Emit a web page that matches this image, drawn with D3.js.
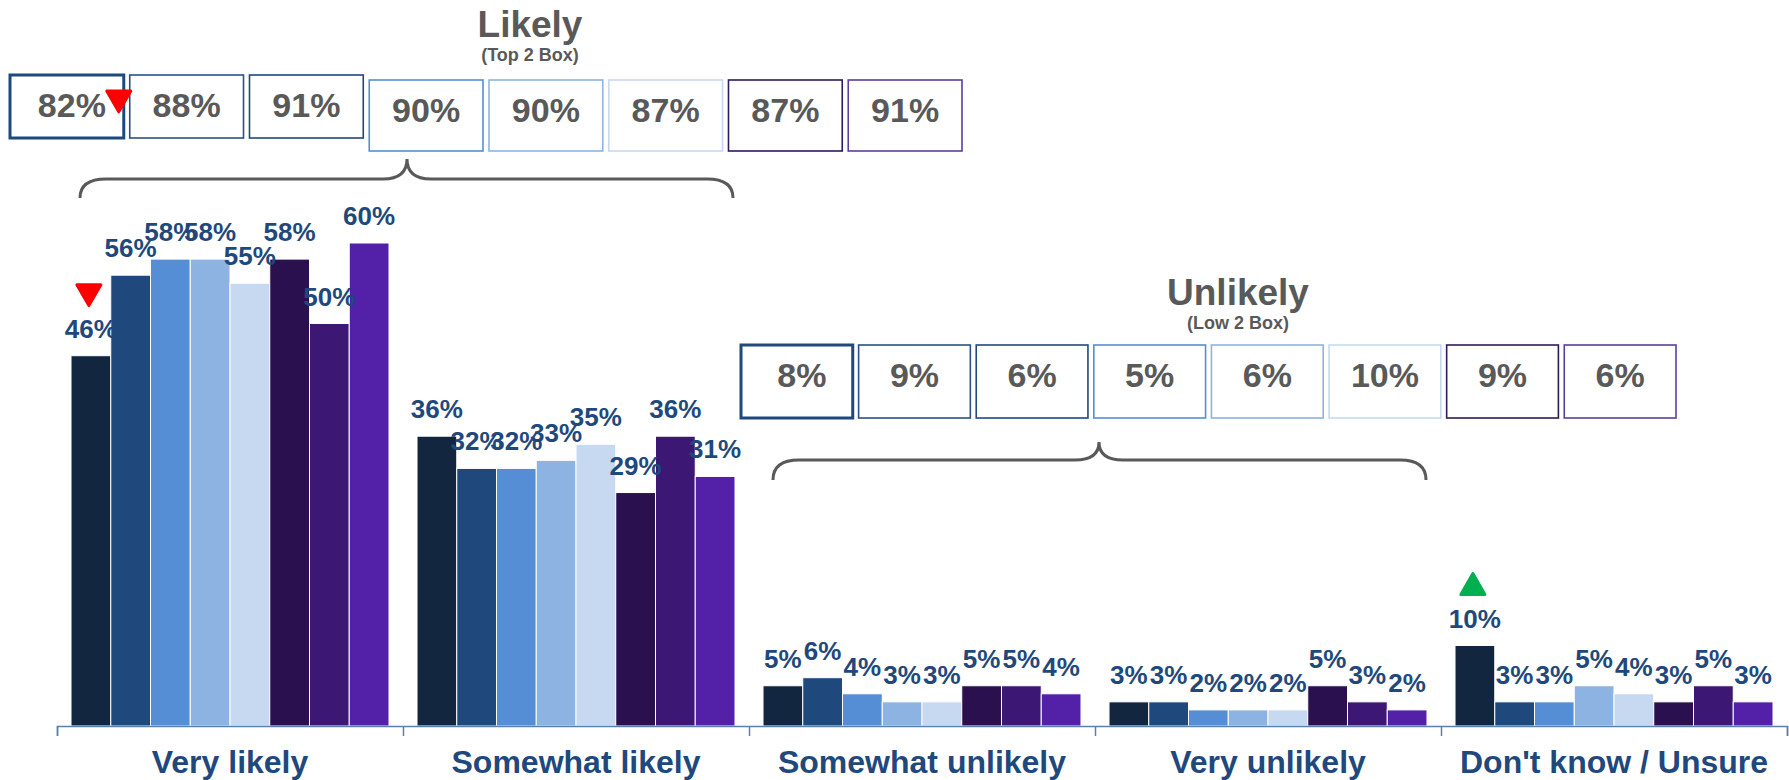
<!DOCTYPE html>
<html>
<head>
<meta charset="utf-8">
<script src="https://cdn.jsdelivr.net/npm/d3@7"></script>
<style>
  html, body { margin: 0; padding: 0; background: #ffffff; }
  svg { display: block; font-family: "Liberation Sans", Arial, sans-serif; }
</style>
</head>
<body>
<svg id="chart" width="1789" height="780"></svg>
<script>
// ---------------- DATA ----------------
const categories = ["Very likely", "Somewhat likely", "Somewhat unlikely", "Very unlikely", "Don't know / Unsure"];
const seriesKeys = ["s1", "s2", "s3", "s4", "s5", "s6", "s7", "s8"];
const veryLikely       = [46, 56, 58, 58, 55, 58, 50, 60];
const somewhatLikely   = [36, 32, 32, 33, 35, 29, 36, 31];
const somewhatUnlikely = [5, 6, 4, 3, 3, 5, 5, 4];
const veryUnlikely     = [3, 3, 2, 2, 2, 5, 3, 2];
const dontKnow         = [10, 3, 3, 5, 4, 3, 5, 3];
const top2Box = [82, 88, 91, 90, 90, 87, 87, 91];
const low2Box = [8, 9, 6, 5, 6, 10, 9, 6];
// significance markers: [category index, series index, direction]
const barSig = [[0, 0, "down"], [4, 0, "up"]];
const top2Sig = [[0, "down"]];

// ---------------- STYLE ----------------
const barColors = ["#13263F", "#1F497D", "#558ED5", "#8DB3E2", "#C6D9F1", "#2A104F", "#3C1874", "#5221A8"];
const boxStroke = ["#1F497D", "#2B5186", "#1F497D", "#558ED5", "#8DB3E2", "#C6D9F1", "#2E1A5C", "#5B3F9C"];
const valueColor = "#1F497D";
const greyText = "#595959";
const axisColor = "#5B7FAE";

const table = categories.map((c, ci) => {
  const vals = [veryLikely, somewhatLikely, somewhatUnlikely, veryUnlikely, dontKnow][ci];
  return { cat: c, ci, values: vals.map((v, si) => ({ key: seriesKeys[si], si, v })) };
});

const svg = d3.select("#chart");

// ---------------- SCALES ----------------
const x0 = d3.scaleBand().domain(categories).range([57, 1787]).paddingInner(0.081).paddingOuter(0.0405);
const x1 = d3.scaleBand().domain(seriesKeys).range([0, x0.bandwidth()]);
const y = d3.scaleLinear().domain([0, 60]).range([726, 243]);

// ---------------- BARS ----------------
const groups = svg.append("g").selectAll("g").data(table).join("g")
  .attr("transform", d => `translate(${x0(d.cat)},0)`);

groups.selectAll("rect").data(d => d.values).join("rect")
  .attr("x", d => x1(d.key))
  .attr("y", d => y(d.v))
  .attr("width", x1.bandwidth())
  .attr("height", d => y(0) - y(d.v))
  .attr("fill", d => barColors[d.si])
  .attr("stroke", "#ffffff")
  .attr("stroke-width", 1);

groups.selectAll("text.val").data(d => d.values).join("text")
  .attr("class", "val")
  .attr("x", d => x1(d.key) + x1.bandwidth() / 2)
  .attr("y", d => y(d.v) - 18)
  .attr("text-anchor", "middle")
  .attr("font-size", 26)
  .attr("font-weight", "bold")
  .attr("fill", valueColor)
  .text(d => d.v + "%");

// ---------------- AXIS ----------------
const boundary = d3.scaleLinear().domain([0, categories.length]).range(x0.range());
const axG = svg.append("g").attr("transform", `translate(0,${y(0)})`);
axG.call(d3.axisBottom(boundary).tickValues(d3.range(categories.length + 1)).tickFormat("").tickSize(10).tickSizeOuter(10));
axG.selectAll("path, line").attr("stroke", axisColor).attr("stroke-width", 1.5);

const labG = svg.append("g").attr("transform", `translate(0,${y(0)})`);
labG.call(d3.axisBottom(x0).tickSize(0).tickPadding(0));
labG.select(".domain").remove();
labG.selectAll("text")
  .attr("y", 47).attr("dy", 0)
  .attr("font-size", 32)
  .attr("font-weight", "bold")
  .attr("font-family", "'Liberation Sans', Arial, sans-serif")
  .attr("fill", valueColor);

// ---------------- TRIANGLE MARKERS ----------------
const triSize = 250;
const triH = Math.sqrt(triSize * Math.sqrt(3)) * Math.sqrt(3) / 2; // equilateral height
function tri(g, cx, bottomY, dir, color) {
  const cy = dir === "down" ? bottomY - triH * 2 / 3 : bottomY - triH / 3;
  g.append("path")
    .attr("d", d3.symbol(d3.symbolTriangle, triSize)())
    .attr("transform", `translate(${cx},${cy}) rotate(${dir === "down" ? 180 : 0})`)
    .attr("fill", color)
    .attr("stroke", color)
    .attr("stroke-width", 3)
    .attr("stroke-linejoin", "round");
}
const markG = svg.append("g");
barSig.forEach(([ci, si, dir]) => {
  const v = table[ci].values[si].v;
  const cx = x0(categories[ci]) + x1(seriesKeys[si]) + x1.bandwidth() / 2 - 2;
  const labelBase = y(v) - 18;
  tri(markG, cx, labelBase - 34, dir, dir === "down" ? "#FF0000" : "#00B050");
});

// ---------------- SUMMARY BOXES ----------------
function boxRow(values, x0r, x1r, topFn, hFn, sig) {
  const bx = d3.scaleBand().domain(seriesKeys).range([x0r, x1r]).paddingInner(0.05);
  const g = svg.append("g");
  values.forEach((v, i) => {
    const k = seriesKeys[i];
    const top = topFn(i), h = hFn(i);
    g.append("rect")
      .attr("x", bx(k)).attr("y", top)
      .attr("width", bx.bandwidth()).attr("height", h)
      .attr("fill", "#ffffff")
      .attr("stroke", boxStroke[i])
      .attr("stroke-width", i === 0 ? 3 : 1.6);
    g.append("text")
      .attr("x", bx(k) + bx.bandwidth() / 2 + (i === 0 ? 5 : 0))
      .attr("y", top + 42)
      .attr("text-anchor", "middle")
      .attr("font-size", 34)
      .attr("font-weight", "bold")
      .attr("fill", greyText)
      .text(v + "%");
  });
  (sig || []).forEach(([i, dir]) => {
    const k = seriesKeys[i];
    tri(g, bx(k) + bx.bandwidth() - 5, 110, dir, "#FF0000");
  });
}
boxRow(top2Box, 10, 962, i => (i < 3 ? 75 : 80), i => (i < 3 ? 63 : 71), top2Sig);
boxRow(low2Box, 741, 1676, () => 345, () => 73, []);

// ---------------- HEADERS ----------------
function header(cx, base, title, sub) {
  svg.append("text").attr("x", cx).attr("y", base)
    .attr("text-anchor", "middle").attr("font-size", 37).attr("font-weight", "bold")
    .attr("fill", greyText).text(title);
  svg.append("text").attr("x", cx).attr("y", base + 24)
    .attr("text-anchor", "middle").attr("font-size", 18).attr("font-weight", "bold")
    .attr("fill", greyText).text(sub);
}
header(530, 37, "Likely", "(Top 2 Box)");
header(1238, 305, "Unlikely", "(Low 2 Box)");

// ---------------- BRACES ----------------
function brace(xa, xb, xm, yEnd, yLine, yTip) {
  const rx = 26, rc = 24;
  const p = d3.path();
  p.moveTo(xa, yEnd);
  p.quadraticCurveTo(xa, yLine, xa + rx, yLine);
  p.lineTo(xm - rc, yLine);
  p.quadraticCurveTo(xm, yLine, xm, yTip);
  p.quadraticCurveTo(xm, yLine, xm + rc, yLine);
  p.lineTo(xb - rx, yLine);
  p.quadraticCurveTo(xb, yLine, xb, yEnd);
  svg.append("path").attr("d", p.toString())
    .attr("fill", "none").attr("stroke", greyText).attr("stroke-width", 3);
}
brace(80, 733, 407, 198, 179, 159);
brace(773, 1426, 1099, 480, 460, 442);
</script>
</body>
</html>
